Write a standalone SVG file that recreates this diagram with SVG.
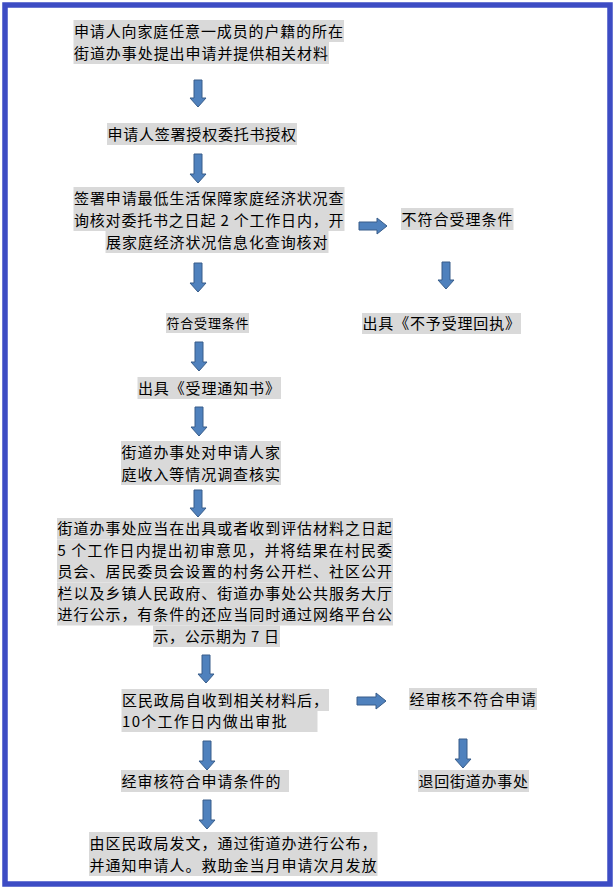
<svg xmlns="http://www.w3.org/2000/svg" width="616" height="890" viewBox="0 0 616 890">
<style>
.hl{fill:#d9d9d9}
.t{font-family:"Noto Sans CJK SC","Noto Sans CJK JP",sans-serif;font-size:15px;fill:#000}
.s{font-size:13px}
.arr{fill:#4f81bd;stroke:#385d8a;stroke-width:1}
</style>
<rect x="0" y="0" width="616" height="890" fill="#ffffff"/>
<rect x="5" y="5" width="605" height="879" fill="none" stroke="#3d4cc4" stroke-width="5.5"/>

<g id="connectors">
<path class="arr" d="M194,80 H202 V98 H206 L198,107 L190,98 H194 Z"/>
<path class="arr" d="M194,154 H202 V174 H206 L198,183 L190,174 H194 Z"/>
<path class="arr" d="M359,222 H377 V218 L387,226 L377,234 V230 H359 Z"/>
<path class="arr" d="M194,263 H202 V283 H206 L198,292 L190,283 H194 Z"/>
<path class="arr" d="M442,262 H450 V280 H454 L446,289 L438,280 H442 Z"/>
<path class="arr" d="M195,342 H203 V362 H207 L199,371 L191,362 H195 Z"/>
<path class="arr" d="M195,407 H203 V427 H207 L199,436 L191,427 H195 Z"/>
<path class="arr" d="M194,490 H202 V508 H206 L198,517 L190,508 H194 Z"/>
<path class="arr" d="M202,655 H210 V674 H214 L206,683 L198,674 H202 Z"/>
<path class="arr" d="M357,697 H376 V693 L386,701 L376,709 V705 H357 Z"/>
<path class="arr" d="M203,741 H211 V761 H215 L207,770 L199,761 H203 Z"/>
<path class="arr" d="M459,739 H467 V759 H471 L463,768 L455,759 H459 Z"/>
<path class="arr" d="M203,800 H211 V820 H215 L207,829 L199,820 H203 Z"/>
</g>

<g id="n1">
<rect class="hl" x="73.5" y="20" width="270.5" height="22"/>
<rect class="hl" x="73.5" y="42" width="255.5" height="22"/>
<text class="t" x="74" y="36.5" textLength="269" lengthAdjust="spacing">申请人向家庭任意一成员的户籍的所在</text>
<text class="t" x="74" y="58.5" textLength="254" lengthAdjust="spacing">街道办事处提出申请并提供相关材料</text>
</g>

<g id="n2">
<rect class="hl" x="107" y="123" width="190" height="22"/>
<text class="t" x="107.5" y="139.5" textLength="188.5" lengthAdjust="spacing">申请人签署授权委托书授权</text>
</g>

<g id="n3">
<rect class="hl" x="73.5" y="187" width="271" height="22"/>
<rect class="hl" x="73.5" y="209" width="271" height="22"/>
<rect class="hl" x="105.5" y="231" width="223" height="22"/>
<text class="t" x="74" y="203.5" textLength="269.5" lengthAdjust="spacing">签署申请最低生活保障家庭经济状况查</text>
<text class="t" x="74" y="225.5" textLength="269.5" lengthAdjust="spacing">询核对委托书之日起 2 个工作日内，开</text>
<text class="t" x="106" y="247.5" textLength="221.5" lengthAdjust="spacing">展家庭经济状况信息化查询核对</text>
</g>

<g id="n4">
<rect class="hl" x="401" y="208" width="112.5" height="22"/>
<text class="t" x="401.5" y="224.5" textLength="111" lengthAdjust="spacing">不符合受理条件</text>
</g>

<g id="n5">
<rect class="hl" x="166" y="313" width="83" height="20"/>
<text class="t s" x="166.5" y="327.8" textLength="82" lengthAdjust="spacing">符合受理条件</text>
</g>

<g id="n6">
<rect class="hl" x="362" y="313" width="159" height="21"/>
<text class="t" x="362.5" y="329" textLength="157.5" lengthAdjust="spacing">出具《不予受理回执》</text>
</g>

<g id="n7">
<rect class="hl" x="137.5" y="377" width="143.5" height="22"/>
<text class="t" x="138" y="393.5" textLength="142" lengthAdjust="spacing">出具《受理通知书》</text>
</g>

<g id="n8">
<rect class="hl" x="121" y="441" width="160" height="22"/>
<rect class="hl" x="121" y="463" width="160" height="22"/>
<text class="t" x="121.5" y="457.5" textLength="158.5" lengthAdjust="spacing">街道办事处对申请人家</text>
<text class="t" x="121.5" y="479.5" textLength="158.5" lengthAdjust="spacing">庭收入等情况调查核实</text>
</g>

<g id="n9">
<rect class="hl" x="57" y="518" width="336" height="21.5"/>
<rect class="hl" x="57" y="539.5" width="336" height="21.5"/>
<rect class="hl" x="57" y="561" width="336" height="21.5"/>
<rect class="hl" x="57" y="582.5" width="336" height="21.5"/>
<rect class="hl" x="57" y="604" width="336" height="21.5"/>
<rect class="hl" x="153" y="625.5" width="127" height="21.5"/>
<text class="t" x="57.5" y="534.3" textLength="334.5" lengthAdjust="spacing">街道办事处应当在出具或者收到评估材料之日起</text>
<text class="t" x="57.5" y="555.8" textLength="334.5" lengthAdjust="spacing">5 个工作日内提出初审意见，并将结果在村民委</text>
<text class="t" x="57.5" y="577.3" textLength="334.5" lengthAdjust="spacing">员会、居民委员会设置的村务公开栏、社区公开</text>
<text class="t" x="57.5" y="598.8" textLength="334.5" lengthAdjust="spacing">栏以及乡镇人民政府、街道办事处公共服务大厅</text>
<text class="t" x="57.5" y="620.3" textLength="334.5" lengthAdjust="spacing">进行公示，有条件的还应当同时通过网络平台公</text>
<text class="t" x="153.5" y="641.8" textLength="125.5" lengthAdjust="spacing">示，公示期为 7 日</text>
</g>

<g id="n10">
<rect class="hl" x="121.5" y="689" width="207.5" height="22"/>
<rect class="hl" x="121.5" y="711" width="196" height="21"/>
<text class="t" x="122" y="705.5" textLength="206" lengthAdjust="spacing">区民政局自收到相关材料后，</text>
<text class="t" x="122" y="727" letter-spacing="1.3">10个工作日内做出审批</text>
</g>

<g id="n11">
<rect class="hl" x="409" y="688" width="128" height="22"/>
<text class="t" x="409.5" y="704.5" textLength="126.5" lengthAdjust="spacing">经审核不符合申请</text>
</g>

<g id="n12">
<rect class="hl" x="121" y="770" width="168" height="22"/>
<text class="t" x="121.5" y="786.5" textLength="159" lengthAdjust="spacing">经审核符合申请条件的</text>
</g>

<g id="n13">
<rect class="hl" x="418" y="770" width="111" height="22"/>
<text class="t" x="418.5" y="786.5" textLength="109.5" lengthAdjust="spacing">退回街道办事处</text>
</g>

<g id="n14">
<rect class="hl" x="89" y="832" width="288.5" height="22"/>
<rect class="hl" x="89" y="854" width="288.5" height="22"/>
<text class="t" x="89.5" y="848.5" textLength="287" lengthAdjust="spacing">由区民政局发文，通过街道办进行公布，</text>
<text class="t" x="89.5" y="870.5" textLength="287" lengthAdjust="spacing">并通知申请人。救助金当月申请次月发放</text>
</g>
</svg>
